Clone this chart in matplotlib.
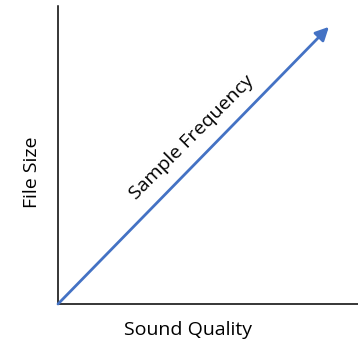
import matplotlib
matplotlib.use("Agg")
import matplotlib.pyplot as plt

X_LABEL = "Sound Quality"
Y_LABEL = "File Size"
ARROW_LABEL = "Sample Frequency"
ARROW_START = [0.0, 0.0]
ARROW_END = [0.903, 0.93]
LABEL_POS = [0.447, 0.56]

BLUE = "#4472C4"

plt.rcParams["font.family"] = ["Open Sans", "DejaVu Sans"]

fig = plt.figure(figsize=(3.58, 3.43), dpi=100)
ax = fig.add_axes([58 / 358, 39 / 343, 300 / 358, 298 / 343])
ax.set_xlim(0, 1)
ax.set_ylim(0, 1)
ax.spines["top"].set_visible(False)
ax.spines["right"].set_visible(False)
ax.spines["left"].set_linewidth(1.1)
ax.spines["bottom"].set_linewidth(1.1)
ax.set_xticks([])
ax.set_yticks([])

ax.annotate("", xy=ARROW_END, xytext=ARROW_START,
            arrowprops=dict(arrowstyle="-|>,head_length=0.8,head_width=0.4",
                            color=BLUE, lw=2, shrinkA=0, shrinkB=0))
ax.text(LABEL_POS[0], LABEL_POS[1], ARROW_LABEL, rotation=45, rotation_mode="anchor",
        ha="center", va="center", fontsize=14)

ax.set_xlabel(X_LABEL, fontsize=14, va="center")
ax.xaxis.set_label_coords(0.433, -0.087)
ax.set_ylabel(Y_LABEL, fontsize=14, va="center")
ax.yaxis.set_label_coords(-0.087, 0.443)

fig.savefig("out.png", dpi=100)
